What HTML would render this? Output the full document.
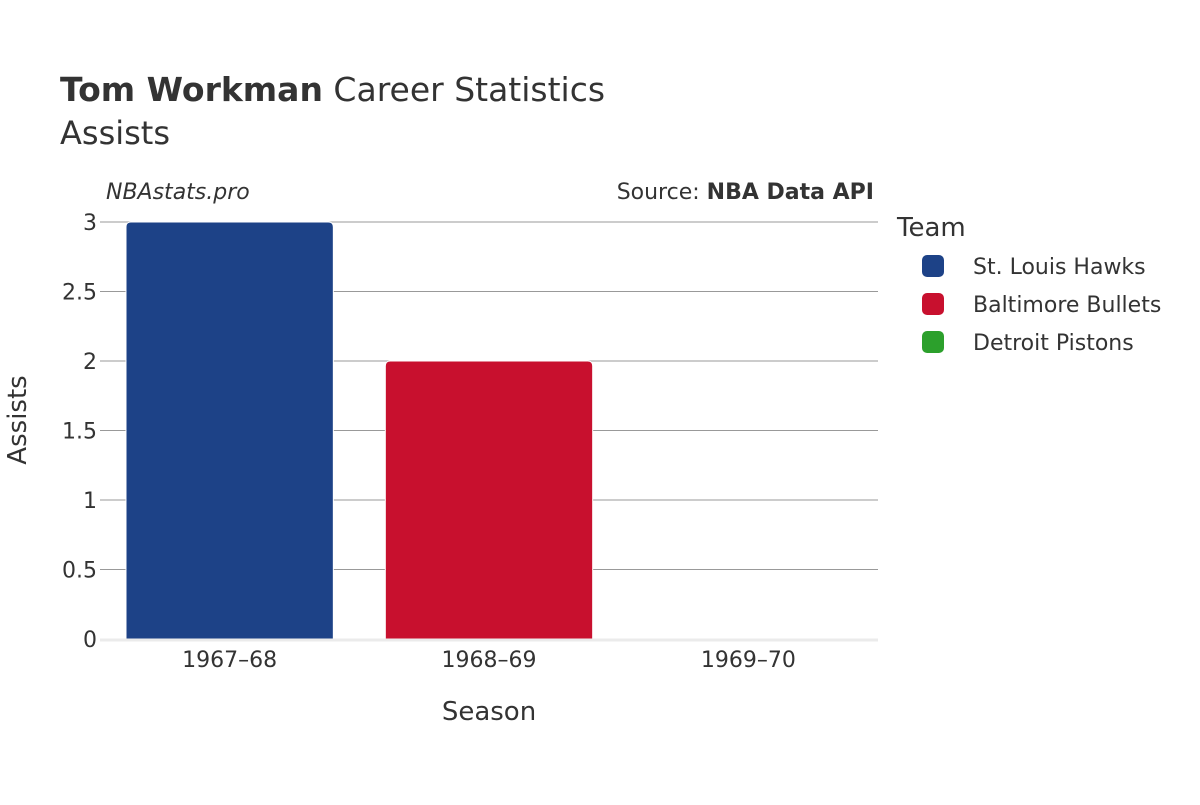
<!DOCTYPE html>
<html><head><meta charset="utf-8"><style>
body{margin:0;background:#fff;}
svg{font-family:"DejaVu Sans","Liberation Sans",sans-serif;}
</style></head><body>
<svg width="1200" height="800">
<text x="60" y="101" font-size="33" fill="#333"><tspan font-weight="bold">Tom Workman</tspan> Career Statistics</text>
<text x="60" y="144" font-size="32" fill="#333">Assists</text>
<text x="106" y="199" font-size="22" font-style="italic" fill="#333">NBAstats.pro</text>
<text x="874" y="199" font-size="22" text-anchor="end" fill="#333">Source: <tspan font-weight="bold">NBA Data API</tspan></text>
<g id="grid"></g>
<g id="bars"></g>
<g id="xt"></g>
<text x="489" y="720" font-size="26" text-anchor="middle" fill="#333">Season</text>
<text transform="translate(26,420) rotate(-90)" font-size="26" text-anchor="middle" fill="#333">Assists</text>
<g id="legend"><text x="897" y="236" font-size="26" fill="#333">Team</text></g>
</svg>
<script>
const seasons=["1967–68","1968–69","1969–70"];
const teams=["St. Louis Hawks","Baltimore Bullets","Detroit Pistons"];
const colors=["#1d4287","#c8102e","#2ca02c"];
const values=[3,2,0];
const yTicks=[0,0.5,1,1.5,2,2.5,3];
const yTickLabels=["0","0.5","1","1.5","2","2.5","3"];
const ns="http://www.w3.org/2000/svg";
const X0=100,X1=878,Y0=639,Y1=222,YMAX=3;
const y=v=>Y0-(Y0-Y1)*v/YMAX;
const band=(X1-X0)/seasons.length;
const x=i=>X0+band*i;
function mk(t,a,p){const e=document.createElementNS(ns,t);for(const k in a)e.setAttribute(k,a[k]);p.appendChild(e);return e;}
const grid=document.getElementById('grid');
yTicks.forEach((v,i)=>{
 if(v>0){const l=mk('line',{x1:X0,x2:X1,y1:y(v),y2:y(v),stroke:'#999','stroke-width':1},grid);
 
 }
 const t=mk('text',{x:97,y:y(v)+8,'font-size':22,'text-anchor':'end',fill:'#333'},grid);
 t.textContent=yTickLabels[i];
 
 
});
const bars=document.getElementById('bars');
values.forEach((v,i)=>{
 const bx=x(i)+26,bw=band-52,top=y(v),h=Y0-top;
 if(h>0){const r=Math.min(5,h);
 const p=mk('path',{d:`M${bx},${Y0}V${top+r}Q${bx},${top} ${bx+r},${top}H${bx+bw-r}Q${bx+bw},${top} ${bx+bw},${top+r}V${Y0}Z`,fill:colors[i],stroke:'#fff','stroke-width':1},bars);
 
 }
 const t=mk('text',{x:x(i)+band/2,y:667,'font-size':22,'text-anchor':'middle',fill:'#333'},document.getElementById('xt'));
 t.textContent=seasons[i];
 
 
});
const zl=mk('line',{x1:X0,x2:X1,y1:Y0+1,y2:Y0+1,stroke:'#ebebeb','stroke-width':3},bars);


const lg=document.getElementById('legend');
teams.forEach((n,i)=>{
 const yy=266+i*38;
 const r=mk('rect',{x:922,y:yy-11,width:22,height:22,rx:5,fill:colors[i]},lg);
 
 
 const t=mk('text',{x:973,y:yy+8,'font-size':22,fill:'#333'},lg);
 t.textContent=n;
 
 
});
</script>
</body></html>
